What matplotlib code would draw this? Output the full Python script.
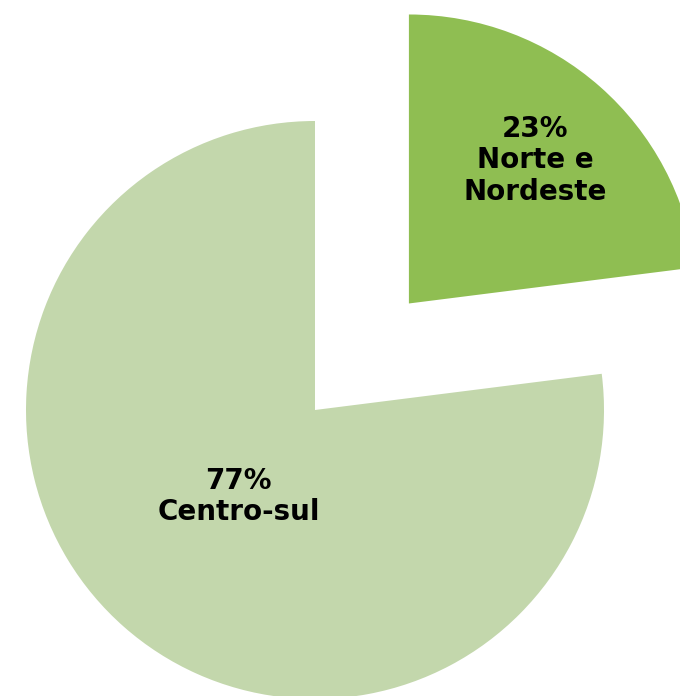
import matplotlib
matplotlib.use("Agg")
import matplotlib.pyplot as plt
import numpy as np

# Data
regions = ["Norte e\nNordeste", "Centro-sul"]
shares = [23, 77]
colors = ["#8FBE52", "#C3D7AC"]

plt.rcParams["font.family"] = ["DejaVu Sans"]

fig = plt.figure(figsize=(6.8, 6.96), dpi=100)
ax = fig.add_axes([0, 0, 1, 1])

# work in pixel-like units so the pie can be cropped like the original
radius = 289
center = (315, 696 - 410)
explode = [142, 0]

wedges, texts = ax.pie(
    shares,
    colors=colors,
    startangle=90,
    counterclock=False,
    radius=radius,
    center=center,
    explode=explode,
    frame=True,
    wedgeprops=dict(linewidth=0),
)

# labels placed inside each wedge at their own distance
label_dist = [0.66, 0.40]
for w, name, val, d in zip(wedges, regions, shares, label_dist):
    cx, cy = w.center
    mid = np.deg2rad((w.theta1 + w.theta2) / 2)
    ax.text(cx + d * w.r * np.cos(mid), cy + d * w.r * np.sin(mid),
            f"{val}%\n{name}", ha="center", va="center",
            fontsize=20, fontweight="bold", color="black", linespacing=1.15)

ax.set_xlim(0, 680)
ax.set_ylim(0, 696)
ax.set_aspect("equal")
ax.axis("off")

plt.savefig("out.png", dpi=100)
